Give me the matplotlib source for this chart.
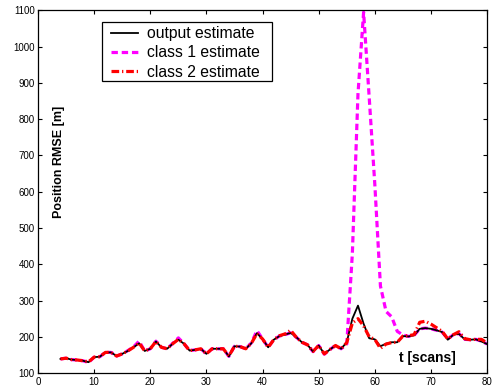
import matplotlib
matplotlib.use("Agg")
import matplotlib.pyplot as plt
from matplotlib.patches import Rectangle
import numpy as np

plt.rcParams['font.family'] = ['Liberation Sans', 'DejaVu Sans']

# scan index
t = list(range(4, 81))

# RMSE of the combined output estimate [m]
output_rmse = [139, 141, 137, 136, 134, 130, 144, 145, 157, 157,
               147, 153, 161, 171, 182, 161, 167, 187, 171, 167,
               181, 192, 181, 162, 164, 167, 153, 167, 167, 167,
               146, 174, 173, 167, 182, 210, 194, 171, 192, 202,
               206, 211, 199, 185, 178, 159, 176, 153, 165, 176,
               167, 185, 250, 286, 236, 196, 193, 174, 181, 185,
               185, 202, 201, 204, 222, 224, 222, 218, 213, 192,
               206, 208, 193, 192, 193, 187, 180]

# RMSE of the class 1 filter [m]
class1_rmse = [139, 141, 137, 136, 134, 129, 144, 145, 157, 157,
               147, 153, 162, 172, 188, 161, 167, 188, 171, 167,
               182, 197, 181, 162, 164, 167, 153, 167, 167, 167,
               146, 174, 173, 167, 183, 217, 194, 171, 192, 202,
               206, 211, 199, 185, 178, 159, 176, 152, 165, 176,
               167, 180, 430, 870, 1095, 860, 620, 340, 270, 255,
               215, 205, 201, 204, 222, 224, 222, 218, 213, 194,
               206, 209, 193, 192, 193, 188, 180]

# RMSE of the class 2 filter [m]
class2_rmse = [139, 141, 137, 136, 134, 131, 144, 145, 157, 157,
               147, 153, 161, 171, 183, 161, 167, 187, 171, 167,
               181, 193, 181, 162, 164, 167, 153, 167, 167, 167,
               147, 174, 173, 167, 182, 209, 194, 171, 192, 203,
               208, 218, 199, 185, 178, 160, 176, 153, 165, 176,
               167, 184, 238, 250, 230, 200, 193, 168, 180, 184,
               185, 202, 203, 206, 240, 243, 235, 225, 215, 194,
               206, 214, 195, 192, 193, 193, 183]

W, H = 494, 387
fig = plt.figure(figsize=(W / 100, H / 100), dpi=100)
ax = fig.add_axes([0.077, 0.036, 0.909, 0.937])

ax.plot(t, output_rmse, color='black', lw=1.3, label='output estimate', zorder=3)
ax.plot(t, class1_rmse, color='#ff00ff', lw=2.3, dashes=(2.0, 1.2),
        label='class 1 estimate', zorder=2)
ax.plot(t, class2_rmse, color='#ff0000', lw=2.3, dashes=(2.4, 0.9, 0.4, 0.9),
        label='class 2 estimate', zorder=4)

ax.set_xlim(0, 80)
ax.set_ylim(100, 1100)
ax.set_xticks(np.arange(0, 81, 10))
ax.set_yticks(np.arange(100, 1101, 100))
ax.tick_params(direction='in', top=True, right=True, labelsize=7,
               length=3, width=0.8, pad=2.5)
for s in ax.spines.values():
    s.set_linewidth(0.9)

ax.text(0.047, 0.582, 'Position RMSE [m]', transform=ax.transAxes,
        rotation=90, ha='center', va='center', fontsize=9, fontweight='bold')
ax.text(0.866, 0.041, 't [scans]', transform=ax.transAxes,
        ha='center', va='center', fontsize=10, fontweight='bold')

# legend box drawn separately so the side padding can be wider than the top/bottom
box = Rectangle((102 / W, 1 - 81 / H), 170 / W, 59 / H, transform=fig.transFigure,
                facecolor='white', edgecolor='black', lw=0.9, zorder=5,
                clip_on=False)
ax.add_patch(box)
leg = ax.legend(loc='upper left', bbox_to_anchor=(111 / W, 1 - 26 / H),
                bbox_transform=fig.transFigure, fontsize=11.3, frameon=False,
                handlelength=1.7, handletextpad=0.6, borderpad=0,
                labelspacing=0.28, borderaxespad=0)
leg.set_zorder(6)

fig.savefig('out.png', dpi=100)
